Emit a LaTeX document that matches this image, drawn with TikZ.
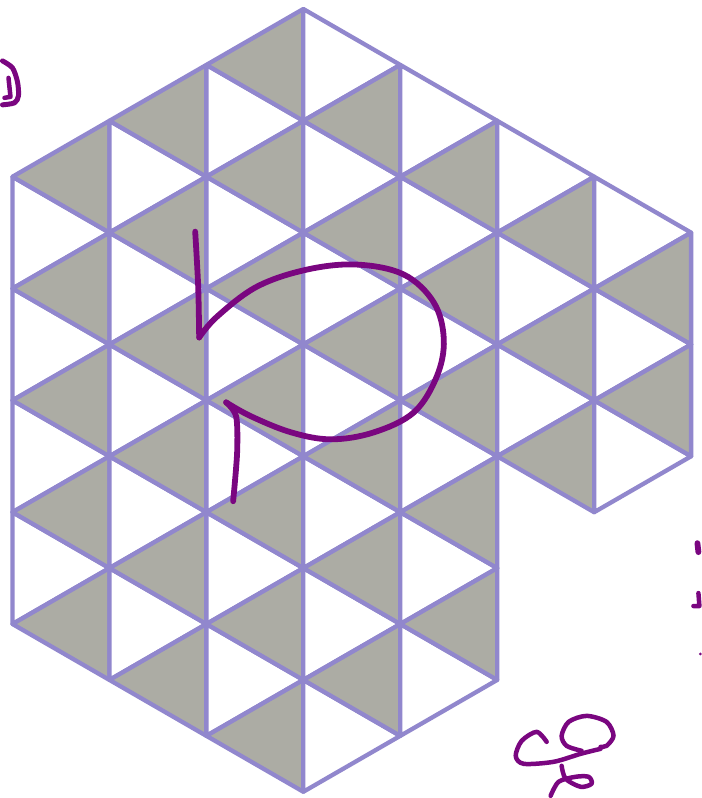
\documentclass[tikz,border=0pt]{standalone}
\usepackage{tikz}
\definecolor{gridline}{RGB}{145,135,205}
\definecolor{tiledark}{RGB}{172,172,164}
\definecolor{penink}{RGB}{122,6,128}

\begin{document}
\begin{tikzpicture}[
        x=1pt, y=-1pt,
        lattice/.style={line width=4.3pt, draw=gridline, line join=round},
        darktri/.style={lattice, fill=tiledark},
        lighttri/.style={lattice, fill=white},
        ink/.style={line width=5.8pt, draw=penink, line cap=round, line join=round}
    ]
    \def\cw{97.1}
    \def\ch{112}
    \fill[white] (0,0) rectangle (697,798);

    % strips between column i and i+1: left range la..lb, right range ra..rb
    \foreach \i/\la/\lb/\ra/\rb in {0/1.5/5.5/1/6, 1/1/6/0.5/6.5, 2/0.5/6.5/0/7,
            3/0/7/0.5/6.5, 4/0.5/6.5/1/6, 5/1/4/1.5/4.5, 6/1.5/4.5/2/4} {
        \pgfmathtruncatemacro\nl{\lb-\la}
        \pgfmathtruncatemacro\nr{\rb-\ra}
        \foreach \k in {1,...,\nl}
            \draw[lighttri] ({8+\i*\cw},{9+(\la+\k-1)*\ch}) -- ++(0,\ch)
                -- ({8+(\i+1)*\cw},{9+(\la+\k-0.5)*\ch}) -- cycle;
        \foreach \k in {1,...,\nr}
            \draw[darktri] ({8+(\i+1)*\cw},{9+(\ra+\k-1)*\ch}) -- ++(0,\ch)
                -- ({8+\i*\cw},{9+(\ra+\k-0.5)*\ch}) -- cycle;
    }

    % the loop drawn over the grid
    \draw[ink] plot[smooth] coordinates {(191,232) (194,287) (195,338)};
    \draw[ink] plot[smooth, tension=0.6] coordinates {(195,338) (213,317) (253,287)
        (303,270) (353,265) (400,275) (430,303) (440,340) (433,377) (410,413)
        (370,433) (327,440) (287,433) (247,417) (222,403)};
    \draw[ink] plot[smooth] coordinates {(222,403) (232,417) (233,453) (229,502)};

    % scribbles at the edges
    \draw[ink, line width=5pt] plot[smooth] coordinates {(-2,61) (8,68) (13,82) (14,96) (10,103) (-2,105)};
    \draw[ink, line width=4.5pt] (4,78) -- (6,97) -- (0,98);
    \draw[ink] (694,544) -- (695,553);
    \draw[ink, line width=4.5pt] (695,594) -- (696,607) -- (690,607);
    \fill[penink] (697,655) circle (1.5);

    \draw[ink, line width=4.5pt] plot[smooth] coordinates {(543,743) (533,733) (518,742)
        (512,757) (520,765) (550,763) (577,755) (597,750)};
    \draw[ink, line width=4.5pt] plot[smooth] coordinates {(578,752) (563,747) (558,737)
        (565,723) (583,717) (603,723) (610,737) (603,747) (597,748)};
    \draw[ink, line width=4.5pt] plot[smooth] coordinates {(558,767) (562,780) (577,788)
        (588,785) (585,778) (572,778) (555,783) (547,797)};
\end{tikzpicture}
\end{document}
